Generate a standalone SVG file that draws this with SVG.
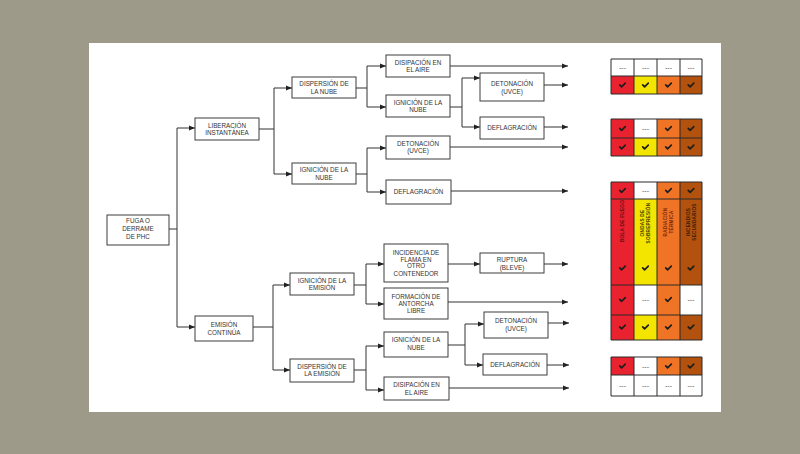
<svg xmlns="http://www.w3.org/2000/svg" width="800" height="454" viewBox="0 0 800 454">
<defs>
<style>
.bx{fill:#fff;stroke:#3c3c3c;stroke-width:1}
.t{font-family:"Liberation Sans",Arial,sans-serif;font-size:6.3px;fill:#333;text-anchor:middle}
.ln{fill:none;stroke:#333;stroke-width:1}
.ar{fill:none;stroke:#333;stroke-width:1;marker-end:url(#ah)}
.cg{fill:none;stroke:#2a2a2a;stroke-width:1}
.ck{fill:none;stroke:#1e1e1e;stroke-width:1.7;stroke-linecap:round;stroke-linejoin:round}
.ds{font-family:"Liberation Sans",Arial,sans-serif;font-size:7px;fill:#555;text-anchor:middle}
.vl{font-family:"Liberation Sans",Arial,sans-serif;font-size:4.7px;font-weight:bold;letter-spacing:0.25px;text-anchor:middle}
.R{fill:#e8232f}.Y{fill:#f4e500}.O{fill:#ef7426}.B{fill:#b3520f}.W{fill:#fff}
</style>
<marker id="ah" markerUnits="userSpaceOnUse" markerWidth="6" markerHeight="6" viewBox="0 0 6 6" refX="6" refY="3" orient="auto">
<path d="M0,0.6 L6,3 L0,5.4 Z" fill="#222"/>
</marker>
<path id="ck" class="ck" d="M-2.8,-0.2 L-0.9,1.8 L2.8,-1.8"/>
</defs>
<rect x="0" y="0" width="800" height="454" fill="#9d9a8a"/>
<rect x="89" y="43" width="632" height="369" fill="#fff"/>

<g id="connectors">
<path class="ln" d="M169,229 H177 M177,128 V327"/>
<path class="ar" d="M177,128 H195"/>
<path class="ar" d="M177,327 H195"/>
<path class="ln" d="M259,129 H274 M274,88 V174"/>
<path class="ar" d="M274,88 H292"/>
<path class="ar" d="M274,174 H292"/>
<path class="ln" d="M356,88 H367 M367,66 V107"/>
<path class="ar" d="M367,66 H386"/>
<path class="ar" d="M367,107 H386"/>
<path class="ln" d="M450,107 H462 M462,78 V127"/>
<path class="ar" d="M462,78 H480"/>
<path class="ar" d="M462,127 H480"/>
<path class="ln" d="M356,174 H367 M367,148 V192"/>
<path class="ar" d="M367,148 H386"/>
<path class="ar" d="M367,192 H386"/>
<path class="ln" d="M253,327 H273 M273,285 V370"/>
<path class="ar" d="M273,285 H290"/>
<path class="ar" d="M273,370 H290"/>
<path class="ln" d="M354,285 H366 M366,264 V304"/>
<path class="ar" d="M366,264 H384"/>
<path class="ar" d="M366,304 H384"/>
<path class="ar" d="M448,264 H480"/>
<path class="ln" d="M354,370 H366 M366,346 V390"/>
<path class="ar" d="M366,346 H384"/>
<path class="ar" d="M366,390 H384"/>
<path class="ln" d="M448,345 H465 M465,324 V365"/>
<path class="ar" d="M465,324 H484"/>
<path class="ar" d="M465,365 H483"/>
<path class="ar" d="M450,66 H568"/>
<path class="ar" d="M544,85 H568"/>
<path class="ar" d="M544,127 H568"/>
<path class="ar" d="M450,147 H568"/>
<path class="ar" d="M451,191 H568"/>
<path class="ar" d="M544,264 H568"/>
<path class="ar" d="M448,302 H568"/>
<path class="ar" d="M548,323 H569"/>
<path class="ar" d="M547,365 H569"/>
<path class="ar" d="M449,388 H569"/>
</g>

<g id="fuga"><rect class="bx" x="107" y="215" width="62" height="30"/><text class="t" x="138" y="223.2">FUGA O<tspan x="138" y="231.2">DERRAME</tspan><tspan x="138" y="239.2">DE PHC</tspan></text></g>
<g id="liberacion"><rect class="bx" x="195" y="118" width="64" height="22"/><text class="t" x="227" y="127.9">LIBERACIÓN<tspan x="227" y="134.9">INSTANTÁNEA</tspan></text></g>
<g id="emision"><rect class="bx" x="195" y="316" width="58" height="25"/><text class="t" x="224" y="327.2">EMISIÓN<tspan x="224" y="334.5">CONTINÚA</tspan></text></g>
<g id="dispersion-nube"><rect class="bx" x="292" y="77" width="64" height="21"/><text class="t" x="324" y="86.2">DISPERSIÓN DE<tspan x="324" y="93.9">LA NUBE</tspan></text></g>
<g id="ignicion-nube-1"><rect class="bx" x="292" y="163" width="64" height="21"/><text class="t" x="324" y="172.2">IGNICIÓN DE LA<tspan x="324" y="179.5">NUBE</tspan></text></g>
<g id="disipacion-1"><rect class="bx" x="386" y="55" width="64" height="22"/><text class="t" x="418" y="64.9">DISIPACIÓN EN<tspan x="418" y="72.2">EL AIRE</tspan></text></g>
<g id="ignicion-nube-2"><rect class="bx" x="386" y="95" width="64" height="22"/><text class="t" x="418" y="104.9">IGNICIÓN DE LA<tspan x="418" y="112.2">NUBE</tspan></text></g>
<g id="detonacion-1"><rect class="bx" x="480" y="73" width="64" height="28"/><text class="t" x="512" y="85.5">DETONACIÓN<tspan x="512" y="93.9">(UVCE)</tspan></text></g>
<g id="deflagracion-1"><rect class="bx" x="480" y="117" width="64" height="22"/><text class="t" x="512" y="129.9">DEFLAGRACIÓN</text></g>
<g id="detonacion-2"><rect class="bx" x="386" y="136" width="64" height="23"/><text class="t" x="418" y="145.5">DETONACIÓN<tspan x="418" y="153.2">(UVCE)</tspan></text></g>
<g id="deflagracion-2"><rect class="bx" x="386" y="180" width="65" height="24"/><text class="t" x="418.5" y="193.9">DEFLAGRACIÓN</text></g>
<g id="ignicion-emision"><rect class="bx" x="290" y="273" width="64" height="22"/><text class="t" x="322" y="282.9">IGNICIÓN DE LA<tspan x="322" y="289.9">EMISIÓN</tspan></text></g>
<g id="dispersion-emision"><rect class="bx" x="290" y="359" width="64" height="23"/><text class="t" x="322" y="368.9">DISPERSIÓN DE<tspan x="322" y="376.2">LA EMISIÓN</tspan></text></g>
<g id="incidencia"><rect class="bx" x="384" y="244" width="64" height="38"/><text class="t" x="416" y="254.5">INCIDENCIA DE<tspan x="416" y="261.5">FLAMA EN</tspan><tspan x="416" y="268.4">OTRO</tspan><tspan x="416" y="275.5">CONTENEDOR</tspan></text></g>
<g id="ruptura"><rect class="bx" x="480" y="253" width="64" height="20"/><text class="t" x="512" y="261.5">RUPTURA<tspan x="512" y="269.5">(BLEVE)</tspan></text></g>
<g id="formacion"><rect class="bx" x="384" y="288" width="64" height="31"/><text class="t" x="416" y="298.9">FORMACIÓN DE<tspan x="416" y="305.9">ANTORCHA</tspan><tspan x="416" y="312.9">LIBRE</tspan></text></g>
<g id="ignicion-nube-3"><rect class="bx" x="384" y="332" width="64" height="25"/><text class="t" x="416" y="342.2">IGNICIÓN DE LA<tspan x="416" y="349.5">NUBE</tspan></text></g>
<g id="detonacion-3"><rect class="bx" x="484" y="312" width="64" height="26"/><text class="t" x="516" y="322.9">DETONACIÓN<tspan x="516" y="331.2">(UVCE)</tspan></text></g>
<g id="deflagracion-3"><rect class="bx" x="483" y="354" width="64" height="21"/><text class="t" x="515" y="366.9">DEFLAGRACIÓN</text></g>
<g id="disipacion-2"><rect class="bx" x="384" y="377" width="65" height="23"/><text class="t" x="416.5" y="387.2">DISIPACIÓN EN<tspan x="416.5" y="394.5">EL AIRE</tspan></text></g>

<g id="tabla-1">
<rect class="W" x="611" y="59" width="91" height="17"/>
<rect class="R" x="611" y="76" width="23" height="18"/><rect class="Y" x="634" y="76" width="23" height="18"/><rect class="O" x="657" y="76" width="23" height="18"/><rect class="B" x="680" y="76" width="22" height="18"/>
<path class="cg" d="M611,59 H702 V94 H611 Z M611,76 H702 M634,59 V94 M657,59 V94 M680,59 V94"/>
<text class="ds" x="622.5" y="69.5">---</text><text class="ds" x="645.5" y="69.5">---</text><text class="ds" x="668.5" y="69.5">---</text><text class="ds" x="691" y="69.5">---</text>
<use href="#ck" x="622.5" y="85"/><use href="#ck" x="645.5" y="85"/><use href="#ck" x="668.5" y="85"/><use href="#ck" x="691" y="85"/>
</g>

<g id="tabla-2">
<rect class="R" x="611" y="119" width="23" height="37"/><rect class="W" x="634" y="119" width="23" height="19"/><rect class="Y" x="634" y="138" width="23" height="18"/><rect class="O" x="657" y="119" width="23" height="37"/><rect class="B" x="680" y="119" width="22" height="37"/>
<path class="cg" d="M611,119 H702 V156 H611 Z M611,138 H702 M634,119 V156 M657,119 V156 M680,119 V156"/>
<use href="#ck" x="622.5" y="128.5"/><text class="ds" x="645.5" y="131">---</text><use href="#ck" x="668.5" y="128.5"/><use href="#ck" x="691" y="128.5"/>
<use href="#ck" x="622.5" y="147"/><use href="#ck" x="645.5" y="147"/><use href="#ck" x="668.5" y="147"/><use href="#ck" x="691" y="147"/>
</g>

<g id="tabla-3">
<rect class="R" x="611" y="182" width="23" height="158"/>
<rect class="W" x="634" y="182" width="23" height="17"/><rect class="Y" x="634" y="199" width="23" height="86"/><rect class="W" x="634" y="285" width="23" height="30"/><rect class="Y" x="634" y="315" width="23" height="25"/>
<rect class="O" x="657" y="182" width="23" height="158"/>
<rect class="B" x="680" y="182" width="22" height="103"/><rect class="W" x="680" y="285" width="22" height="30"/><rect class="B" x="680" y="315" width="22" height="25"/>
<path class="cg" d="M611,182 H702 V340 H611 Z M611,199 H702 M611,285 H702 M611,315 H702 M634,182 V340 M657,182 V340 M680,182 V340"/>
<use href="#ck" x="622.5" y="190.5"/><text class="ds" x="645.5" y="193">---</text><use href="#ck" x="668.5" y="190.5"/><use href="#ck" x="691" y="190.5"/>
<text class="vl" fill="#6b0d0d" transform="translate(622.5,221) rotate(-90)" x="0" y="1.6">BOLA DE FUEGO</text>
<text class="vl" fill="#4a4000" transform="translate(645.5,223) rotate(-90)"><tspan x="0" y="-1.4">ONDAS DE</tspan><tspan x="0" y="4.6">SOBREPRESIÓN</tspan></text>
<text class="vl" fill="#7a2a0a" transform="translate(668.5,222) rotate(-90)"><tspan x="0" y="-1.4">RADIACIÓN</tspan><tspan x="0" y="4.6">TÉRMICA</tspan></text>
<text class="vl" fill="#3d1a05" transform="translate(691,222) rotate(-90)"><tspan x="0" y="-1.4">INCENDIOS</tspan><tspan x="0" y="4.6">SECUNDARIOS</tspan></text>
<use href="#ck" x="622.5" y="268"/><use href="#ck" x="645.5" y="268"/><use href="#ck" x="668.5" y="268"/><use href="#ck" x="691" y="268"/>
<use href="#ck" x="622.5" y="299.5"/><text class="ds" x="645.5" y="302">---</text><use href="#ck" x="668.5" y="299.5"/><text class="ds" x="691" y="302">---</text>
<use href="#ck" x="622.5" y="327"/><use href="#ck" x="645.5" y="327"/><use href="#ck" x="668.5" y="327"/><use href="#ck" x="691" y="327"/>
</g>

<g id="tabla-4">
<rect class="R" x="611" y="357" width="23" height="18"/><rect class="W" x="634" y="357" width="23" height="18"/><rect class="O" x="657" y="357" width="23" height="18"/><rect class="B" x="680" y="357" width="22" height="18"/>
<rect class="W" x="611" y="375" width="91" height="21"/>
<path class="cg" d="M611,357 H702 V396 H611 Z M611,375 H702 M634,357 V396 M657,357 V396 M680,357 V396"/>
<use href="#ck" x="622.5" y="366"/><text class="ds" x="645.5" y="368.5">---</text><use href="#ck" x="668.5" y="366"/><use href="#ck" x="691" y="366"/>
<text class="ds" x="622.5" y="388">---</text><text class="ds" x="645.5" y="388">---</text><text class="ds" x="668.5" y="388">---</text><text class="ds" x="691" y="388">---</text>
</g>
</svg>
